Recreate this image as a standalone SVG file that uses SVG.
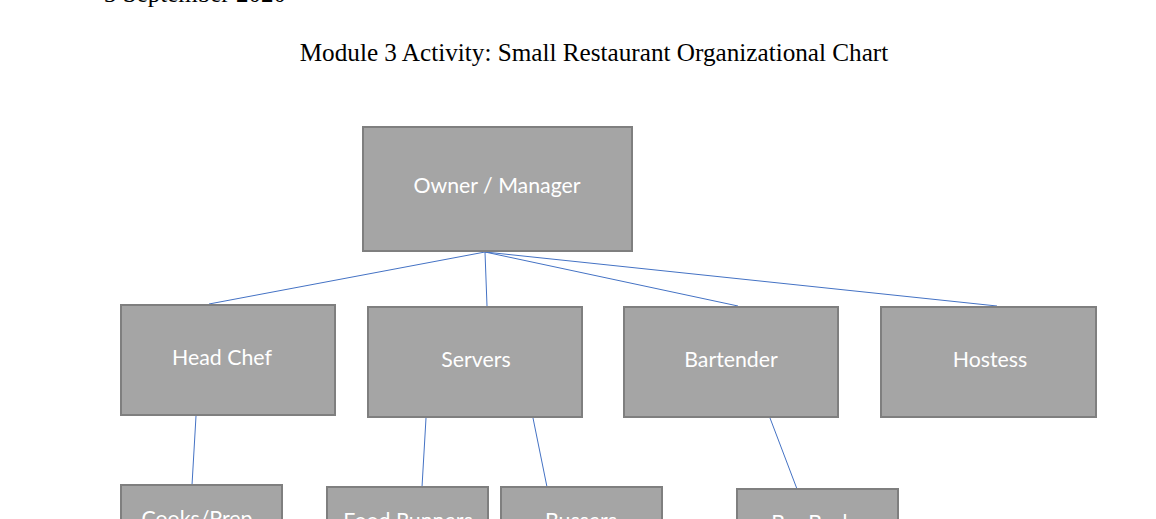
<svg xmlns="http://www.w3.org/2000/svg" width="1156" height="519" viewBox="0 0 1156 519">
<style>
.box{fill:#a5a5a5;stroke:#7f7f7f;stroke-width:2}
.lbl{font-family:Lato,"Open Sans","Liberation Sans",sans-serif;font-size:21.3px;fill:#ffffff;text-anchor:middle}
.doc{font-family:"Liberation Serif","Times New Roman",serif;fill:#000000}
.con line{stroke:#4472c4;stroke-width:1}
</style>
<rect width="1156" height="519" fill="#ffffff"/>
<text class="doc" x="104" y="2" font-size="25">3 September 2020</text>
<text class="doc" x="594" y="61" font-size="25.2" text-anchor="middle">Module 3 Activity: Small Restaurant Organizational Chart</text>
<g id="connectors" class="con">
<line x1="485" y1="252" x2="209" y2="304"/>
<line x1="485" y1="252" x2="487" y2="306"/>
<line x1="485" y1="252" x2="738" y2="306"/>
<line x1="485" y1="252" x2="997" y2="306"/>
<line x1="196" y1="416" x2="192" y2="485"/>
<line x1="426" y1="418" x2="422" y2="487"/>
<line x1="533" y1="418" x2="547" y2="487"/>
<line x1="770" y1="418" x2="797" y2="489"/>
</g>
<g id="owner"><rect class="box" x="363" y="127" width="269" height="124"/><text class="lbl" x="497" y="193">Owner / Manager</text></g>
<g id="headchef"><rect class="box" x="121" y="305" width="214" height="110"/><text class="lbl" x="222" y="365">Head Chef</text></g>
<g id="servers"><rect class="box" x="368" y="307" width="214" height="110"/><text class="lbl" x="476" y="367">Servers</text></g>
<g id="bartender"><rect class="box" x="624" y="307" width="214" height="110"/><text class="lbl" x="731" y="367">Bartender</text></g>
<g id="hostess"><rect class="box" x="881" y="307" width="215" height="110"/><text class="lbl" x="990" y="367">Hostess</text></g>
<g id="cooks"><rect class="box" x="121" y="485" width="161" height="110"/><text class="lbl" x="197" y="526">Cooks/Prep</text></g>
<g id="foodrunners"><rect class="box" x="327" y="487" width="161" height="110"/><text class="lbl" x="408" y="528">Food Runners</text></g>
<g id="bussers"><rect class="box" x="501" y="487" width="161" height="110"/><text class="lbl" x="581" y="528">Bussers</text></g>
<g id="barbacks"><rect class="box" x="737" y="489" width="161" height="110"/><text class="lbl" x="817" y="530">Bar Backs</text></g>
</svg>
